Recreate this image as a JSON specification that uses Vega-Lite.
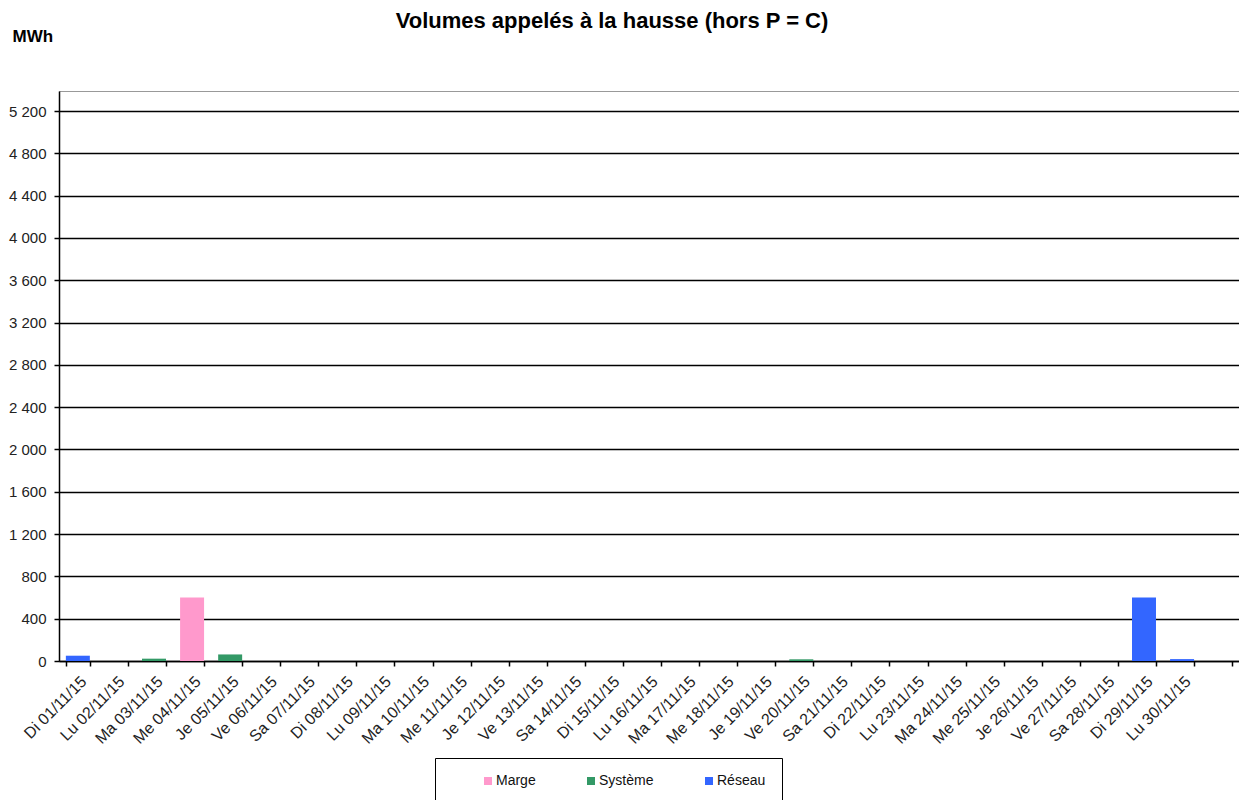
{
  "$schema": "https://vega.github.io/schema/vega-lite/v6.json",
  "width": 1180,
  "height": 570,
  "autosize": "none",
  "padding": {"left": 59, "top": 91, "right": 0, "bottom": 139},
  "background": "white",
  "config": {
    "font": "Liberation Sans",
    "view": {"stroke": "#999999", "strokeWidth": 1}
  },
  "title": {
    "text": "Volumes appelés à la hausse (hors P = C)",
    "fontSize": 22,
    "fontWeight": "bold",
    "font": "Liberation Sans",
    "color": "#000000",
    "anchor": "middle",
    "baseline": "alphabetic",
    "dx": -37,
    "offset": -23
  },
  "data": {
    "values": [
      {"jour": "Di 01/11/15", "serie": "Réseau", "mwh": 50},
      {"jour": "Ma 03/11/15", "serie": "Système", "mwh": 22},
      {"jour": "Me 04/11/15", "serie": "Marge", "mwh": 600},
      {"jour": "Je 05/11/15", "serie": "Système", "mwh": 62},
      {"jour": "Ve 20/11/15", "serie": "Système", "mwh": 16},
      {"jour": "Di 29/11/15", "serie": "Réseau", "mwh": 600},
      {"jour": "Lu 30/11/15", "serie": "Réseau", "mwh": 18}
    ]
  },
  "mark": {"type": "bar"},
  "encoding": {
    "x": {
      "field": "jour",
      "type": "nominal",
      "sort": null,
      "scale": {
        "domain": ["Di 01/11/15", "Lu 02/11/15", "Ma 03/11/15", "Me 04/11/15", "Je 05/11/15", "Ve 06/11/15", "Sa 07/11/15", "Di 08/11/15", "Lu 09/11/15", "Ma 10/11/15", "Me 11/11/15", "Je 12/11/15", "Ve 13/11/15", "Sa 14/11/15", "Di 15/11/15", "Lu 16/11/15", "Ma 17/11/15", "Me 18/11/15", "Je 19/11/15", "Ve 20/11/15", "Sa 21/11/15", "Di 22/11/15", "Lu 23/11/15", "Ma 24/11/15", "Me 25/11/15", "Je 26/11/15", "Ve 27/11/15", "Sa 28/11/15", "Di 29/11/15", "Lu 30/11/15", " "],
        "paddingInner": 0.37,
        "paddingOuter": 0.18
      },
      "axis": {
        "title": null,
        "labelAngle": -45,
        "labelAlign": "right",
        "labelBaseline": "top",
        "labelFontSize": 16,
        "labelColor": "#222222",
        "labelPadding": 7,
        "domainColor": "#000000",
        "domainWidth": 1.5,
        "tickColor": "#000000",
        "tickBand": "extent",
        "tickSize": 5,
        "tickWidth": 1.5,
        "grid": false
      }
    },
    "y": {
      "field": "mwh",
      "type": "quantitative",
      "stack": "zero",
      "scale": {"domain": [0, 5390], "nice": false},
      "axis": {
        "values": [0, 400, 800, 1200, 1600, 2000, 2400, 2800, 3200, 3600, 4000, 4400, 4800, 5200],
        "labelExpr": "replace(format(datum.value, ','), ',', ' ')",
        "labelFontSize": 15,
        "labelColor": "#222222",
        "labelPadding": 8,
        "title": "MWh",
        "titleAngle": 0,
        "titleAlign": "left",
        "titleBaseline": "alphabetic",
        "titleX": -47,
        "titleY": -50,
        "titleFontSize": 17,
        "titleFontWeight": "bold",
        "titleColor": "#000000",
        "domainColor": "#000000",
        "domainWidth": 1.5,
        "tickColor": "#000000",
        "tickSize": 5,
        "tickWidth": 1.5,
        "grid": true,
        "gridColor": "#000000",
        "gridWidth": 1.3
      }
    },
    "color": {
      "field": "serie",
      "type": "nominal",
      "scale": {
        "domain": ["Marge", "Système", "Réseau"],
        "range": ["#FF99CC", "#339966", "#3366FF"]
      },
      "legend": {
        "title": null,
        "orient": "none",
        "legendX": 376,
        "legendY": 667,
        "direction": "horizontal",
        "columns": 3,
        "columnPadding": 18,
        "symbolType": "square",
        "symbolSize": 64,
        "symbolStrokeWidth": 0,
        "labelOffset": 1,
        "labelFontSize": 14,
        "labelColor": "#111111",
        "symbolOffset": 30,
        "padding": 16,
        "strokeColor": "#000000",
        "fillColor": "#ffffff"
      }
    }
  }
}
